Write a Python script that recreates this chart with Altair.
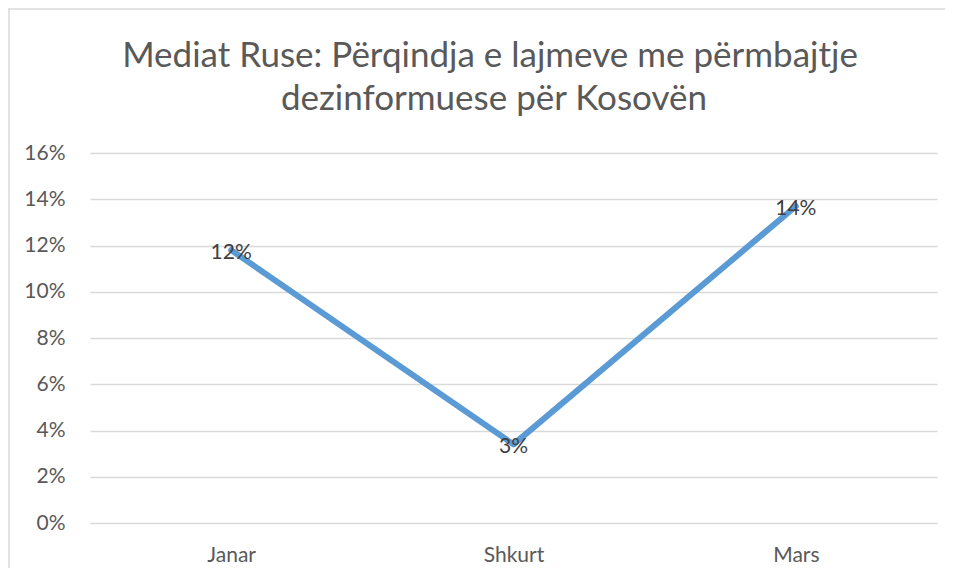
import altair as alt
import pandas as pd

months = ["Janar", "Shkurt", "Mars"]
values = [0.118, 0.034, 0.137]
labels = ["12%", "3%", "14%"]
y_ticks = [0, 0.02, 0.04, 0.06, 0.08, 0.10, 0.12, 0.14, 0.16]
title_lines = ["Mediat Ruse: Përqindja e lajmeve me përmbajtje", "dezinformuese për Kosovën"]

df = pd.DataFrame({"month": months, "value": values, "label": labels})

W, H = 847, 370
FONT = "Lato"

x_enc = alt.X("month:N", sort=months, title=None,
              axis=alt.Axis(labelAngle=0, ticks=False, domain=False, grid=False,
                            labelFontSize=21, labelColor="#595959", labelFont=FONT,
                            labelPadding=21))
y_enc = alt.Y("value:Q", title=None,
              scale=alt.Scale(domain=[0, 0.16], nice=False),
              axis=alt.Axis(values=y_ticks, format=".0%", ticks=False, domain=False,
                            grid=True, gridColor="#d9d9d9", gridWidth=1.3,
                            labelFontSize=21, labelColor="#595959", labelFont=FONT,
                            labelPadding=25))

base = alt.Chart(df)

line = base.mark_line(color="#5B9BD5", strokeWidth=6, strokeCap="round",
                      strokeJoin="round").encode(x=x_enc, y=y_enc)

text = base.mark_text(fontSize=21, color="#404040", font=FONT, dy=3).encode(
    x=alt.X("month:N", sort=months), y="value:Q", text="label:N")

one = pd.DataFrame({"k": [0]})
t1 = alt.Chart(pd.DataFrame({"t": [title_lines[0]]})).mark_text(
    fontSize=35, font=FONT, color="#595959", baseline="alphabetic", align="center").encode(
    x=alt.value(400), y=alt.value(-86), text="t:N")
t2 = alt.Chart(pd.DataFrame({"t": [title_lines[1]]})).mark_text(
    fontSize=35, font=FONT, color="#595959", baseline="alphabetic", align="center").encode(
    x=alt.value(404), y=alt.value(-43), text="t:N")

top_border = alt.Chart(one).mark_rule(color="#d9d9d9", strokeWidth=1.5).encode(
    x=alt.value(-82), x2=alt.value(W + 300), y=alt.value(-144))
left_border = alt.Chart(one).mark_rule(color="#d9d9d9", strokeWidth=1.5).encode(
    x=alt.value(-81), y=alt.value(-144), y2=alt.value(H + 300))

chart = alt.layer(line, text, t1, t2, top_border, left_border).properties(
    width=W, height=H,
    autosize=alt.AutoSizeParams(type="none"),
    padding={"left": 82, "top": 145, "right": 8, "bottom": 45},
).configure_view(stroke=None)

chart.save("out.html", embed_options={"renderer": "svg", "actions": False})
